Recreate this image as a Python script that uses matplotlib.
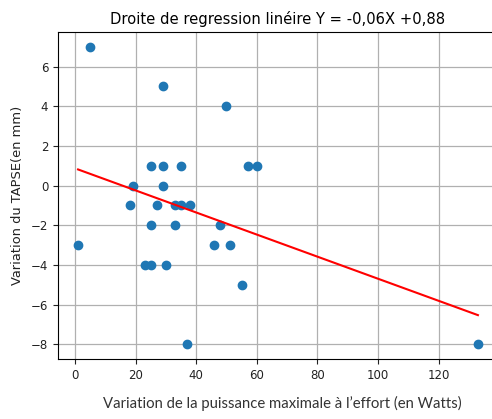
import numpy as np
import matplotlib.pyplot as plt

# Variation de la puissance maximale (W) et variation du TAPSE (mm)
puissance = [5, 29, 50, 25, 29, 35, 57, 60, 19, 29, 18, 27, 33, 35, 38,
             25, 33, 48, 1, 46, 51, 23, 25, 30, 55, 37, 133]
tapse = [7, 5, 4, 1, 1, 1, 1, 1, 0, 0, -1, -1, -1, -1, -1,
         -2, -2, -2, -3, -3, -3, -4, -4, -4, -5, -8, -8]

x = np.array(puissance)
y = np.array(tapse)
pente, origine = np.polyfit(x, y, 1)

fig = plt.figure(figsize=(4.92, 4.19), dpi=100)
ax = fig.add_axes([0.118, 0.143, 0.894, 0.781])

ax.scatter(x, y, s=36, color='#1f77b4', zorder=3)
xs = np.array([x.min(), x.max()])
ax.plot(xs, pente * xs + origine, color='red', linewidth=1.5, zorder=4)

ax.grid(True, color='#b0b0b0', linewidth=0.9)
ax.set_axisbelow(True)
ax.tick_params(labelsize=8.5, colors='#222222')
ax.set_title("Droite de regression linéire Y = -0,06X +0,88", fontsize=10.6)
ax.set_ylabel("Variation du TAPSE(en mm)", fontsize=9.4, color='#222222', labelpad=5)

fig.text(0.573, 0.038, "Variation de la puissance maximale à l\u2019effort (en Watts)",
         ha='center', va='center', fontsize=10.7, family='Lato', color='#333333')

fig.savefig("out.png", dpi=100)
